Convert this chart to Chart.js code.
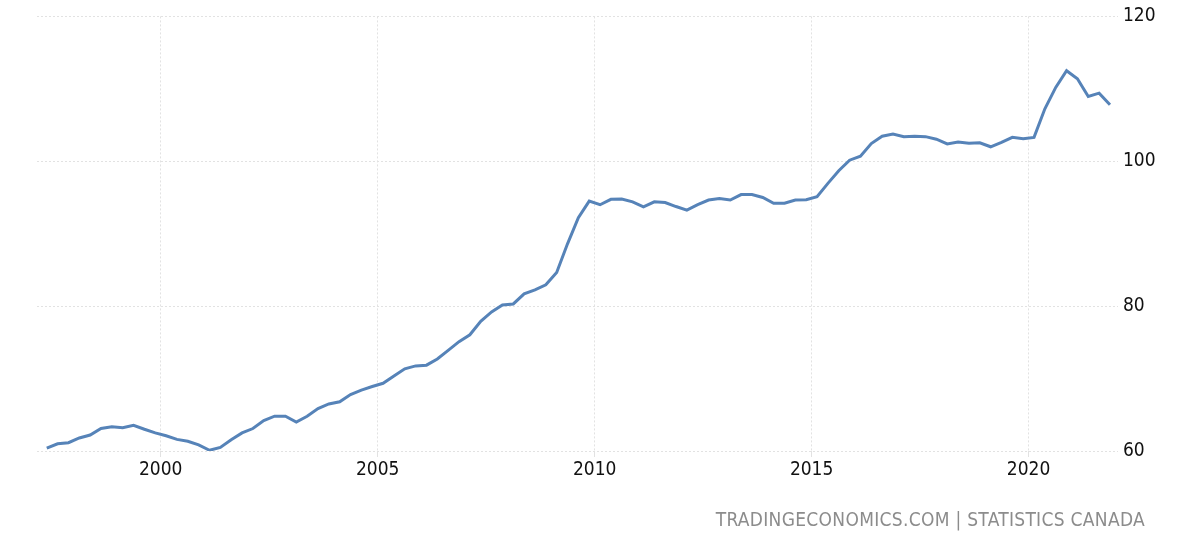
<!DOCTYPE html>
<html>
<head>
<meta charset="utf-8">
<script src="https://cdn.jsdelivr.net/npm/chart.js@4"></script>
<style>
  html, body { margin: 0; padding: 0; background: #fff; }
  #wrap { position: relative; width: 1200px; height: 545px; }
  #source {
    position: absolute; right: 55px; top: 508px;
    font-family: 'DejaVu Sans Condensed', 'DejaVu Sans', sans-serif;
    font-size: 19px; color: #8c8c8c; letter-spacing: 0.3px;
  }
</style>
</head>
<body>
<div id="wrap">
  <canvas id="chart" width="1200" height="545"></canvas>
  <div id="source">TRADINGECONOMICS.COM | STATISTICS CANADA</div>
</div>
<script>
// quarterly series, starts 1997 Q2
const startYear = 1997;
const startQuarter = 2;
const values = [
  60.4, 61.0, 61.15,
  61.8, 62.2, 63.1, 63.35,
  63.2, 63.55, 63.0, 62.5,
  62.1, 61.6, 61.35, 60.85,
  60.1, 60.5, 61.55, 62.5,
  63.1, 64.2, 64.8, 64.8,
  64.0, 64.8, 65.85, 66.5,
  66.8, 67.8, 68.4, 68.9,
  69.35, 70.35, 71.35, 71.75,
  71.85, 72.7, 73.9, 75.1,
  76.05, 77.9, 79.2, 80.15,
  80.3, 81.7, 82.25, 82.95,
  84.65, 88.6, 92.2, 94.5,
  94.0, 94.75, 94.8, 94.4,
  93.7, 94.4, 94.3, 93.75,
  93.25, 94.0, 94.65, 94.85,
  94.65, 95.4, 95.4, 95.0,
  94.2, 94.2, 94.65, 94.7,
  95.1, 96.95, 98.7, 100.15,
  100.7, 102.45, 103.45, 103.75,
  103.4, 103.45, 103.4, 103.05,
  102.4, 102.65, 102.5, 102.55,
  102.0, 102.6, 103.3, 103.1,
  103.3, 107.25, 110.2, 112.5,
  111.4, 108.95, 109.4, 107.8
];
const yearTicks = [2000, 2005, 2010, 2015, 2020];
const yTicks = [60, 80, 100, 120];

// place each quarter at its midpoint on a year axis
const points = values.map((v, i) => {
  const q = startQuarter - 1 + i;
  return { x: startYear + Math.floor(q / 4) + ((q % 4) + 0.5) / 4, y: v };
});

const font = { family: "'DejaVu Sans Condensed', 'DejaVu Sans', sans-serif", size: 19 };

new Chart(document.getElementById('chart'), {
  type: 'line',
  data: {
    datasets: [{
      data: points,
      borderColor: '#5683b8',
      borderWidth: 3,
      pointRadius: 0,
      tension: 0,
      fill: false
    }]
  },
  options: {
    responsive: false,
    animation: false,
    layout: { padding: { left: 37, top: 15, right: 0, bottom: 0 } },
    plugins: { legend: { display: false }, tooltip: { enabled: false } },
    scales: {
      x: {
        type: 'linear',
        min: 1997.15,
        max: 2022.06,
        afterBuildTicks: s => { s.ticks = yearTicks.map(v => ({ value: v })); },
        afterFit: s => { s.height = 94; },
        ticks: { color: '#111', font: font, padding: 2, maxRotation: 0, callback: v => String(v) },
        grid: { color: '#e2e2e2', borderDash: [2, 2], tickLength: 6, drawTicks: true },
        border: { display: false, dash: [2, 2] }
      },
      y: {
        position: 'right',
        min: 60,
        max: 120,
        afterBuildTicks: s => { s.ticks = yTicks.map(v => ({ value: v })); },
        afterFit: s => { s.width = 82; },
        ticks: { color: '#111', font: font, padding: 5 },
        grid: { color: '#e2e2e2', drawTicks: false },
        border: { display: false, dash: [2, 2] }
      }
    }
  }
});
</script>
</body>
</html>
